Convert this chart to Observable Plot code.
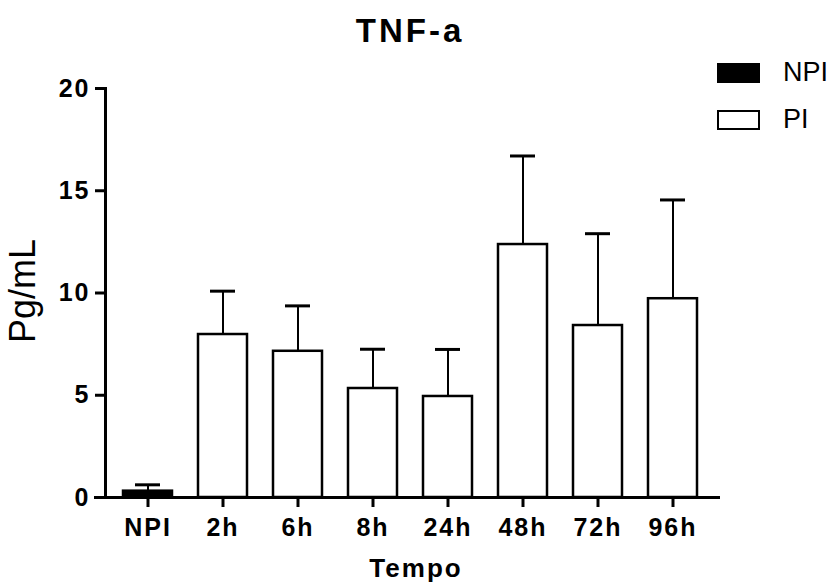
<!DOCTYPE html>
<html>
<head>
<meta charset="utf-8">
<script src="https://cdn.jsdelivr.net/npm/d3@7"></script>
<script src="https://cdn.jsdelivr.net/npm/@observablehq/plot@0.6"></script>
<style>
  body { margin: 0; background: white; font-family: "Liberation Sans", Arial, sans-serif; }
  #wrap { position: relative; width: 834px; height: 584px; }
  #title { position: absolute; left: 0; width: 834px; top: 14px; line-height: 33px; text-align: center; font-size: 33px; font-weight: bold; letter-spacing: 3px; padding-right: 14px; box-sizing: border-box; }
  .leg { position: absolute; left: 717px; display: flex; align-items: center; font-size: 27px; line-height: 27px; }
  .sw { width: 43px; height: 20px; border: 2px solid black; box-sizing: border-box; margin-right: 23px; }
  #chart g[aria-label$="tick label"] text { letter-spacing: 2px; }
</style>
</head>
<body>
<div id="wrap">
  <div id="title">TNF-a</div>
  <div id="chart"></div>
  <div class="leg" style="top:59px"><div class="sw" style="background:black"></div><span>NPI</span></div>
  <div class="leg" style="top:106px"><div class="sw" style="background:white"></div><span>PI</span></div>
</div>
<script>
const categories = ["NPI", "2h", "6h", "8h", "24h", "48h", "72h", "96h"];
const means = [0.31, 7.97, 7.15, 5.33, 4.94, 12.37, 8.41, 9.72];
const uppers = [0.62, 10.09, 9.37, 7.25, 7.24, 16.7, 12.9, 14.55];
const groups = ["NPI", "PI", "PI", "PI", "PI", "PI", "PI", "PI"];
const yTicks = [0, 5, 10, 15, 20];

const data = categories.map((c, i) => ({cat: c, mean: means[i], upper: uppers[i], group: groups[i]}));

const chart = Plot.plot({
  width: 834,
  height: 584,
  marginLeft: 105,
  marginRight: 118,
  marginTop: 88,
  marginBottom: 87,
  style: {fontFamily: "Liberation Sans, Arial, sans-serif", color: "black", background: "white", overflow: "visible"},
  x: {domain: categories, paddingInner: 0.34, paddingOuter: 0.197, axis: null},
  y: {domain: [0, 20], axis: null},
  marks: [
    Plot.ruleX(data, {x: "cat", y1: "mean", y2: "upper", stroke: "black", strokeWidth: 2}),
    Plot.tickY(data, {x: "cat", y: "upper", stroke: "black", strokeWidth: 3, inset: 12}),
    Plot.barY(data, {x: "cat", y: "mean", fill: d => d.group === "NPI" ? "black" : "white", stroke: "black", strokeWidth: 2.5}),
    Plot.axisY({ticks: yTicks, tickSize: 10, strokeWidth: 3, fontSize: 25, fontWeight: "bold", tickPadding: 5, label: null}),
    Plot.axisX({tickSize: 10, strokeWidth: 3, fontSize: 25, fontWeight: "bold", tickPadding: 11, label: null}),
    Plot.frame({anchor: "left", stroke: "black", strokeWidth: 3}),
    Plot.frame({anchor: "bottom", stroke: "black", strokeWidth: 3, insetLeft: -10, insetRight: -2}),
    Plot.text(["Pg/mL"], {frameAnchor: "left", textAnchor: "middle", lineAnchor: "middle", rotate: -90, dx: -82, dy: -2, fontSize: 36}),
    Plot.text(["Tempo"], {frameAnchor: "bottom", textAnchor: "middle", lineAnchor: "middle", dx: 5, dy: 71, fontSize: 26, fontWeight: "bold"})
  ]
});
document.getElementById("chart").appendChild(chart);
chart.querySelectorAll("text").forEach(el => { if (el.textContent === "Tempo") el.style.letterSpacing = "2px"; });
</script>
</body>
</html>
